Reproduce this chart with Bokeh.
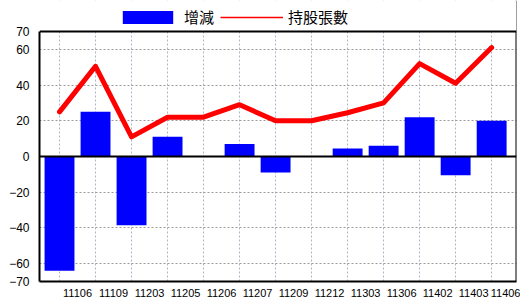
from bokeh.plotting import figure
from bokeh.models import (ColumnDataSource, FixedTicker, Span, Legend, LegendItem, Range1d,
                          BoxAnnotation)
from bokeh.embed import file_html
from bokeh.resources import INLINE

categories = ["11106", "11109", "11203", "11205", "11206", "11207", "11209",
              "11212", "11303", "11306", "11402", "11403", "11406"]
change = [-64, 25, -38.5, 11, 0, 7, -9, 0, 4.5, 6, 22, -10.5, 20]
holdings = [25, 50.5, 11, 22, 22, 29, 20, 20, 24.5, 30, 52, 41, 61]
y_ticks = [-70, -60, -40, -20, 0, 20, 40, 60, 70]
y_min, y_max = -70, 70
x_start, x_end = -0.556, 12.69

xs = list(range(len(categories)))
label_pos = [i + 0.5 for i in xs]
src = ColumnDataSource(dict(x=xs, change=change, holdings=holdings))

# frame reaches the top of the canvas; the band above y_max holds the legend
p = figure(width=520, height=300, output_backend="svg", toolbar_location=None,
           x_range=Range1d(x_start, x_end), y_range=Range1d(y_min, 87.36),
           min_border_left=39, min_border_right=4, min_border_top=0, min_border_bottom=19)
p.background_fill_color = "white"
p.border_fill_color = "white"
p.outline_line_color = None

bars = p.vbar(x="x", top="change", bottom=0, width=0.83, source=src,
              fill_color="#0000FF", line_color=None)
thin = p.line(x="x", y="holdings", source=src, line_color="#FF0000", line_width=1.5)
thick = p.line(x="x", y="holdings", source=src, line_color="#FF0000", line_width=5,
               line_join="round", line_cap="round")

p.add_layout(Span(location=0, dimension="width", line_color="black", line_width=2))
p.add_layout(Span(location=x_end, dimension="height", line_color="black", line_width=2))
# white band above the chart area
p.add_layout(BoxAnnotation(bottom=y_max, fill_color="white", fill_alpha=1, line_color=None))
p.add_layout(Span(location=y_max, dimension="width", line_color="black", line_width=2))

# axes
p.xaxis.ticker = FixedTicker(ticks=label_pos)
p.xaxis.major_label_overrides = {pos: c for pos, c in zip(label_pos, categories)}
p.xaxis.major_label_standoff = 1
p.xaxis.major_tick_line_color = None
p.xaxis.minor_tick_line_color = None
p.xaxis.axis_line_color = "black"
p.xaxis.axis_line_width = 2
p.xaxis.major_label_text_font = "Liberation Sans"
p.xaxis.major_label_text_font_size = "11px"
p.xaxis.major_label_text_color = "black"

p.yaxis.ticker = FixedTicker(ticks=y_ticks)
p.yaxis.bounds = (y_min, y_max)
p.yaxis.major_tick_line_color = None
p.yaxis.minor_tick_line_color = None
p.yaxis.axis_line_color = "black"
p.yaxis.axis_line_width = 2
p.yaxis.major_label_standoff = 4
p.yaxis.major_label_text_font = "Liberation Sans"
p.yaxis.major_label_text_font_size = "12px"
p.yaxis.major_label_text_color = "black"

p.xgrid.ticker = FixedTicker(ticks=xs)
p.xgrid.grid_line_color = "#a9b6c4"
p.xgrid.grid_line_dash = "2 2"
p.ygrid.ticker = FixedTicker(ticks=[-60, -40, -20, 20, 40, 60])
p.ygrid.grid_line_color = "#9a9a9a"
p.ygrid.grid_line_dash = "2 2"

legend = Legend(items=[LegendItem(label="增減", renderers=[bars]),
                       LegendItem(label="持股張數", renderers=[thin])],
                location=(77, 254), orientation="horizontal",
                glyph_width=63, glyph_height=16, label_standoff=5, spacing=6,
                padding=0, margin=0, border_line_color=None,
                background_fill_alpha=0, label_text_font="Noto Sans CJK TC",
                label_text_font_size="15px", label_text_color="black", label_height=16)
p.add_layout(legend, "center")

open("out.html", "w").write(file_html(p, INLINE))
